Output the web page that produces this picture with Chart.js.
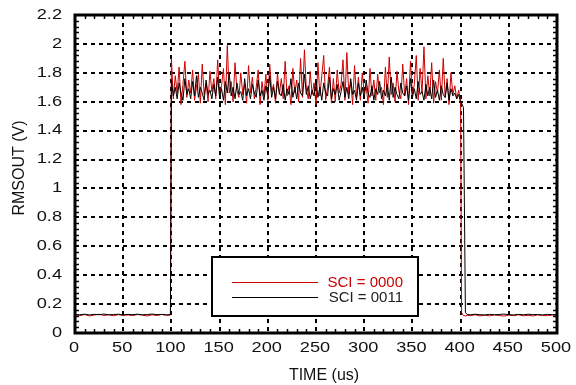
<!DOCTYPE html>
<html>
<head>
<meta charset="utf-8">
<script src="https://cdn.jsdelivr.net/npm/chart.js@4.4.0/dist/chart.umd.min.js"></script>
<style>
  html, body { margin: 0; padding: 0; background: #fff; }
  canvas { display: block; }
</style>
</head>
<body>
<canvas id="myChart" width="576" height="385"></canvas>
<script>
// tick labels
var xTicks = [0, 50, 100, 150, 200, 250, 300, 350, 400, 450, 500];
var yTicks = [0, 0.2, 0.4, 0.6, 0.8, 1, 1.2, 1.4, 1.6, 1.8, 2, 2.2];
var seriesNames = ['SCI = 0000', 'SCI = 0011'];
var xTitle = 'TIME (us)';
var yTitle = 'RMSOUT (V)';

// tempi (us) - prima dell'impulso
var timeBefore = [0, 5, 10, 15, 20, 25, 30, 35, 40, 45, 50, 55, 60, 65, 70, 75, 80, 85, 90, 95, 99];
// tempi durante l'impulso
var timePulse = [
  100, 102, 104, 106, 108, 110, 112, 114, 116, 118,
  120, 122, 124, 126, 128, 130, 132, 134, 136, 138,
  140, 142, 144, 146, 148, 150, 152, 154, 156, 158,
  160, 162, 164, 166, 168, 170, 172, 174, 176, 178,
  180, 182, 184, 186, 188, 190, 192, 194, 196, 198,
  200, 202, 204, 206, 208, 210, 212, 214, 216, 218,
  220, 222, 224, 226, 228, 230, 232, 234, 236, 238,
  240, 242, 244, 246, 248, 250, 252, 254, 256, 258,
  260, 262, 264, 266, 268, 270, 272, 274, 276, 278,
  280, 282, 284, 286, 288, 290, 292, 294, 296, 298,
  300, 302, 304, 306, 308, 310, 312, 314, 316, 318,
  320, 322, 324, 326, 328, 330, 332, 334, 336, 338,
  340, 342, 344, 346, 348, 350, 352, 354, 356, 358,
  360, 362, 364, 366, 368, 370, 372, 374, 376, 378,
  380, 382, 384, 386, 388, 390, 392, 394, 396, 398,
  400
];
// tempi dopo l'impulso
var timeAfter = [401, 403, 405, 407, 410, 415, 420, 425, 430, 435, 440, 445, 450, 455, 460, 465, 470, 475, 480, 485, 490, 495, 500];

// SCI = 0000 (rosso)
var sci0000Before = [0.125, 0.12, 0.128, 0.118, 0.124, 0.13, 0.121, 0.126, 0.119, 0.127, 0.122, 0.125, 0.12, 0.129, 0.123, 0.118, 0.126, 0.121, 0.128, 0.122, 0.124];
var sci0000Pulse = [
  1.90, 1.62, 1.78, 1.66, 1.84, 1.58, 1.72, 1.88, 1.63, 1.75,
  1.66, 1.82, 1.61, 1.70, 1.79, 1.59, 1.86, 1.65, 1.73, 1.60,
  1.81, 1.67, 1.76, 1.62, 1.89, 1.64, 1.71, 1.83, 1.58, 1.99,
  1.66, 1.74, 1.60, 1.87, 1.68, 1.63, 1.80, 1.65, 1.72, 1.59,
  1.85, 1.66, 1.77, 1.62, 1.70, 1.82, 1.58, 1.74, 1.64, 1.79,
  1.61, 1.86, 1.67, 1.72, 1.59, 1.80, 1.65, 1.76, 1.62, 1.88,
  1.64, 1.71, 1.58, 1.83, 1.66, 1.75, 1.60, 1.90, 1.63, 1.96,
  1.68, 1.62, 1.81, 1.65, 1.73, 1.58, 1.87, 1.64, 1.78, 1.92,
  1.61, 1.70, 1.84, 1.59, 1.76, 1.60, 1.82, 1.66, 1.72, 1.89,
  1.61, 1.94, 1.65, 1.74, 1.58, 1.85, 1.63, 1.77, 1.61, 1.80,
  1.66, 1.71, 1.59, 1.83, 1.64, 1.75, 1.61, 1.79, 1.66, 1.70,
  1.58, 1.84, 1.63, 1.91, 1.65, 1.73, 1.60, 1.81, 1.67, 1.62,
  1.86, 1.64, 1.76, 1.58, 1.88, 1.65, 1.72, 1.92, 1.61, 1.83,
  1.66, 1.98, 1.62, 1.78, 1.64, 1.87, 1.59, 1.74, 1.66, 1.82,
  1.61, 1.90, 1.63, 1.76, 1.58, 1.80, 1.65, 1.71, 1.62, 1.68,
  1.60
];
var sci0000After = [0.14, 0.12, 0.118, 0.122, 0.12, 0.126, 0.118, 0.123, 0.119, 0.125, 0.121, 0.117, 0.124, 0.12, 0.126, 0.119, 0.122, 0.118, 0.125, 0.121, 0.12, 0.124, 0.122];

// SCI = 0011 (nero)
var sci0011Before = [0.128, 0.126, 0.13, 0.125, 0.129, 0.127, 0.131, 0.126, 0.128, 0.13, 0.125, 0.129, 0.127, 0.13, 0.126, 0.128, 0.131, 0.127, 0.129, 0.126, 0.128];
var sci0011Pulse = [
  1.75, 1.64, 1.70, 1.62, 1.73, 1.66, 1.61, 1.76, 1.65, 1.69,
  1.62, 1.74, 1.64, 1.78, 1.63, 1.70, 1.66, 1.61, 1.75, 1.65,
  1.68, 1.62, 1.72, 1.64, 1.77, 1.63, 1.69, 1.61, 1.74, 1.66,
  1.80, 1.64, 1.70, 1.62, 1.73, 1.65, 1.67, 1.61, 1.76, 1.64,
  1.69, 1.62, 1.72, 1.66, 1.63, 1.75, 1.64, 1.68, 1.61, 1.71,
  1.65, 1.78, 1.63, 1.70, 1.62, 1.74, 1.66, 1.64, 1.72, 1.61,
  1.69, 1.65, 1.76, 1.63, 1.70, 1.62, 1.73, 1.66, 1.64, 1.79,
  1.65, 1.71, 1.62, 1.68, 1.64, 1.75, 1.63, 1.70, 1.61, 1.73,
  1.66, 1.64, 1.77, 1.62, 1.69, 1.65, 1.72, 1.61, 1.67, 1.74,
  1.63, 1.70, 1.62, 1.76, 1.65, 1.68, 1.61, 1.73, 1.64, 1.70,
  1.62, 1.75, 1.66, 1.63, 1.71, 1.61, 1.69, 1.65, 1.74, 1.62,
  1.68, 1.64, 1.72, 1.61, 1.77, 1.63, 1.70, 1.65, 1.62, 1.73,
  1.66, 1.64, 1.71, 1.61, 1.76, 1.63, 1.69, 1.62, 1.74, 1.65,
  1.67, 1.61, 1.72, 1.64, 1.70, 1.62, 1.75, 1.63, 1.68, 1.61,
  1.71, 1.65, 1.63, 1.73, 1.61, 1.69, 1.64, 1.66, 1.62, 1.65,
  1.60
];
var sci0011After = [1.59, 1.56, 0.14, 0.128, 0.126, 0.13, 0.127, 0.125, 0.129, 0.126, 0.128, 0.131, 0.127, 0.125, 0.129, 0.126, 0.13, 0.127, 0.128, 0.125, 0.129, 0.127, 0.128];

// unisco i pezzi in punti {x, y}
function toPoints(times, values) {
  var pts = [];
  for (var i = 0; i < times.length; i++) {
    pts.push({ x: times[i], y: values[i] });
  }
  return pts;
}
var timeAll = timeBefore.concat(timePulse, timeAfter);
var redPoints = toPoints(timeAll, sci0000Before.concat(sci0000Pulse, sci0000After));
var blackPoints = toPoints(timeAll, sci0011Before.concat(sci0011Pulse, sci0011After));

var RED = '#cc0000';
var FONT = 'Liberation Sans, Arial, Helvetica, sans-serif';

// testo allargato in orizzontale (come le etichette dell'originale)
function wideText(ctx, txt, x, y, align, sx) {
  ctx.save();
  ctx.translate(x, y);
  ctx.scale(sx, 1);
  ctx.textAlign = align;
  ctx.fillText(txt, 0, 0);
  ctx.restore();
}

// cornice spessa, tacche minori, etichette e legenda
var framePlugin = {
  id: 'frame',
  afterDatasetsDraw: function(chart) {
    var ctx = chart.ctx;
    var a = chart.chartArea;
    var xs = chart.scales.x, ys = chart.scales.y;
    ctx.save();

    // tacche minori (dentro)
    ctx.strokeStyle = '#000';
    ctx.lineWidth = 1.5;
    ctx.beginPath();
    for (var t = 10; t < 500; t += 10) {
      if (t % 50 === 0) continue;
      var px = Math.round(xs.getPixelForValue(t)) + 0.5;
      ctx.moveTo(px, a.bottom); ctx.lineTo(px, a.bottom - 4);
      ctx.moveTo(px, a.top); ctx.lineTo(px, a.top + 4);
    }
    for (var k = 1; k < 55; k++) {
      if (k % 5 === 0) continue;
      var py = Math.round(ys.getPixelForValue(k * 0.04)) + 0.5;
      ctx.moveTo(a.left, py); ctx.lineTo(a.left + 4, py);
      ctx.moveTo(a.right, py); ctx.lineTo(a.right - 4, py);
    }
    ctx.stroke();

    // cornice
    ctx.lineWidth = 3;
    ctx.strokeRect(a.left, a.top, a.right - a.left, a.bottom - a.top);

    // etichette dei tick
    ctx.fillStyle = '#111';
    ctx.font = '14px ' + FONT;
    ctx.textBaseline = 'middle';
    for (var i = 0; i < xTicks.length; i++) {
      wideText(ctx, String(xTicks[i]), xs.getPixelForValue(xTicks[i]) - 1, 348, 'center', 1.3);
    }
    for (var j = 0; j < yTicks.length; j++) {
      wideText(ctx, String(yTicks[j]), 62, ys.getPixelForValue(yTicks[j]), 'right', 1.3);
    }

    // titoli degli assi
    ctx.font = '16px ' + FONT;
    ctx.textAlign = 'center';
    ctx.fillText(xTitle, 324, 376);
    ctx.save();
    ctx.translate(20, 168);
    ctx.rotate(-Math.PI / 2);
    ctx.fillText(yTitle, 0, 0);
    ctx.restore();

    // legenda
    var bx = 212, by = 257, bw = 206, bh = 59;
    ctx.fillStyle = '#fff';
    ctx.fillRect(bx, by, bw, bh);
    ctx.lineWidth = 2;
    ctx.strokeStyle = '#000';
    ctx.strokeRect(bx, by, bw, bh);

    ctx.lineWidth = 1;
    ctx.strokeStyle = RED;
    ctx.beginPath(); ctx.moveTo(232, 282.5); ctx.lineTo(318, 282.5); ctx.stroke();
    ctx.strokeStyle = '#000';
    ctx.beginPath(); ctx.moveTo(232, 297.5); ctx.lineTo(318, 297.5); ctx.stroke();

    ctx.font = '15px ' + FONT;
    ctx.textAlign = 'right';
    ctx.textBaseline = 'middle';
    ctx.fillStyle = RED;
    ctx.fillText(seriesNames[0], 403, 283);
    ctx.fillStyle = '#222';
    ctx.fillText(seriesNames[1], 403, 298);

    ctx.restore();
  }
};

var ctx = document.getElementById('myChart').getContext('2d');
var myChart = new Chart(ctx, {
  type: 'line',
  data: {
    datasets: [{
      label: seriesNames[1],
      data: blackPoints,
      borderColor: '#000',
      borderWidth: 1,
      pointRadius: 0,
      tension: 0,
      order: 1
    }, {
      label: seriesNames[0],
      data: redPoints,
      borderColor: RED,
      borderWidth: 1,
      pointRadius: 0,
      tension: 0,
      order: 2
    }]
  },
  options: {
    responsive: false,
    animation: false,
    devicePixelRatio: 1,
    layout: { padding: { left: 0, top: 15, right: 19, bottom: 0 } },
    plugins: {
      legend: { display: false },
      tooltip: { enabled: false }
    },
    scales: {
      x: {
        type: 'linear',
        min: 0,
        max: 500,
        afterBuildTicks: function(scale) {
          scale.ticks = xTicks.map(function(v) { return { value: v }; });
        },
        afterFit: function(scale) { scale.height = 52; },
        ticks: { display: false },
        grid: { color: '#000', lineWidth: 2, drawTicks: false },
        border: { display: false, dash: [4, 4] }
      },
      y: {
        min: 0,
        max: 2.2,
        afterBuildTicks: function(scale) {
          scale.ticks = yTicks.map(function(v) { return { value: v }; });
        },
        afterFit: function(scale) { scale.width = 75; },
        ticks: { display: false },
        grid: { color: '#000', lineWidth: 2, drawTicks: false },
        border: { display: false, dash: [4, 4] }
      }
    }
  },
  plugins: [framePlugin]
});
</script>
</body>
</html>
